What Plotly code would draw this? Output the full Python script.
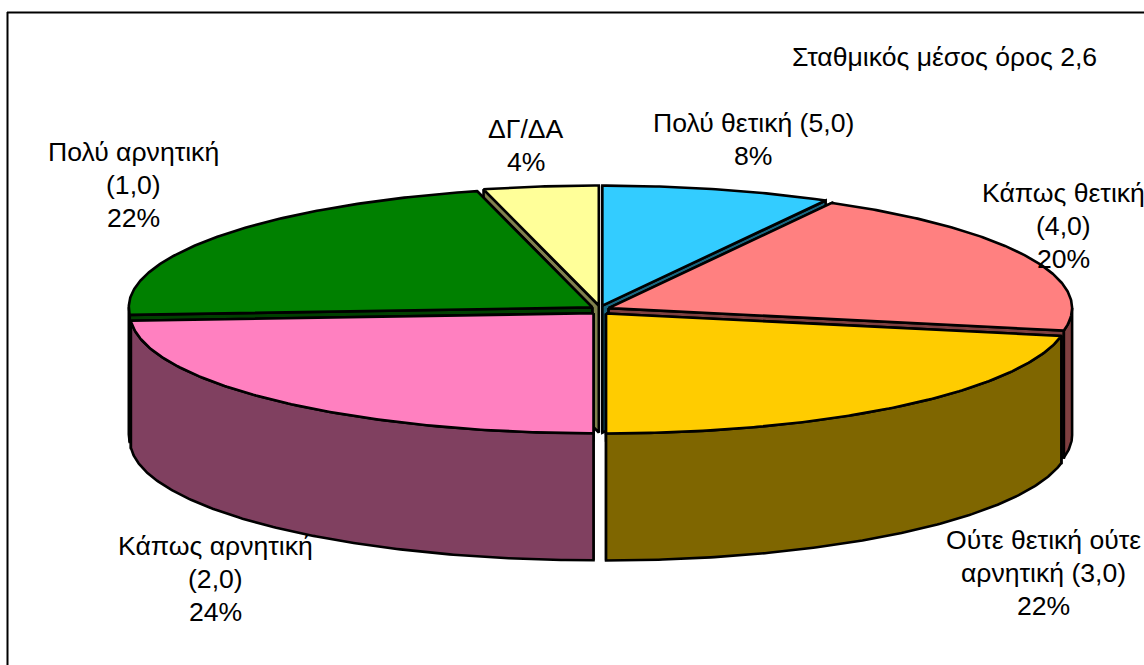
import math
import plotly.graph_objects as go

# ---- data (clockwise from 12 o'clock) ----
categories = ["Πολύ θετική (5,0)", "Κάπως θετική (4,0)", "Ούτε θετική ούτε αρνητική (3,0)",
              "Κάπως αρνητική (2,0)", "Πολύ αρνητική (1,0)", "ΔΓ/ΔΑ"]
values = [8, 20, 22, 24, 22, 4]
top_colors = ["#33CCFF", "#FF8080", "#FFCC00", "#FF80C0", "#008000", "#FFFF99"]
side_colors = ["#196680", "#804040", "#7F6600", "#804060", "#004000", "#80804C"]
paint_order = [5, 0, 4, 1, 3, 2]  # back to front

label_lines = [
    ["Πολύ θετική (5,0)", "8%"],
    ["Κάπως θετική", "(4,0)", "20%"],
    ["Ούτε θετική ούτε", "αρνητική (3,0)", "22%"],
    ["Κάπως αρνητική", "(2,0)", "24%"],
    ["Πολύ αρνητική", "(1,0)", "22%"],
    ["ΔΓ/ΔΑ", "4%"],
]
label_anchor = [(753, 123), (1063, 193), (1043, 540), (215, 546), (133, 152), (526, 129)]
note_text = "Σταθμικός μέσος όρος 2,6"

# ---- projection of the pie ----
W, H = 1144, 665
CX, CY = 600, 310
RX, RY = 463.5, 120
DEPTH = 127
EX, EY = 9.5, 4.5
LINE_H = 33
FONT = "Liberation Sans, Arial, sans-serif"
FS = 26.6


def rim(t_deg, ox, oy, drop=0.0):
    t = math.radians(t_deg)
    return ox + RX * math.sin(t), oy - RY * math.cos(t) + drop


def arc(a, b, ox, oy, drop=0.0):
    n = max(2, int(abs(b - a) * 2) + 1)
    return [rim(a + (b - a) * i / (n - 1), ox, oy, drop) for i in range(n)]


def poly(fig, pts, color, width=2.6):
    xs = [p[0] for p in pts] + [pts[0][0]]
    ys = [p[1] for p in pts] + [pts[0][1]]
    fig.add_trace(go.Scatter(x=xs, y=ys, mode="lines", fill="toself", fillcolor=color,
                             line=dict(color="black", width=width), hoverinfo="skip",
                             showlegend=False))


fig = go.Figure()
total = sum(values)
starts = [sum(values[:i]) / total * 360 for i in range(len(values))]
ends = [sum(values[:i + 1]) / total * 360 for i in range(len(values))]

for i in paint_order:
    a, b = starts[i], ends[i]
    mid = math.radians((a + b) / 2)
    ox, oy = CX + EX * math.sin(mid), CY - EY * math.cos(mid)
    # cut faces, the one reaching further back first
    for t in sorted((a, b), key=lambda v: rim(v, ox, oy)[1]):
        r = rim(t, ox, oy)
        poly(fig, [(ox, oy), r, (r[0], r[1] + DEPTH), (ox, oy + DEPTH)], side_colors[i])
    # outer wall (front half only)
    lo, hi = max(a, 90), min(b, 270)
    if lo < hi:
        poly(fig, arc(lo, hi, ox, oy) + arc(hi, lo, ox, oy, DEPTH), side_colors[i])
    # top
    poly(fig, [(ox, oy)] + arc(a, b, ox, oy), top_colors[i])

ann = []
for lines, (x, y) in zip(label_lines, label_anchor):
    for k, line in enumerate(lines):
        ann.append(dict(x=x, y=y + k * LINE_H, text=line, showarrow=False, xanchor="center",
                        yanchor="middle", font=dict(family=FONT, size=FS, color="black")))
ann.append(dict(x=944, y=57, text=note_text, showarrow=False, xanchor="center", yanchor="middle",
                font=dict(family=FONT, size=FS, color="black")))

fig.update_layout(
    width=W, height=H, margin=dict(l=0, r=0, t=0, b=0),
    paper_bgcolor="white", plot_bgcolor="white", showlegend=False,
    xaxis=dict(range=[0, W], visible=False, fixedrange=True),
    yaxis=dict(range=[H, 0], visible=False, fixedrange=True),
    annotations=ann,
    shapes=[dict(type="line", x0=7.5, x1=7.5, y0=12, y1=H, line=dict(color="black", width=2)),
            dict(type="line", x0=7, x1=W, y0=12.5, y1=12.5, line=dict(color="black", width=2))],
)
fig.write_html("out.html", config={"displayModeBar": False},
               post_script="document.body.style.margin='0';document.body.style.overflow='hidden';")
